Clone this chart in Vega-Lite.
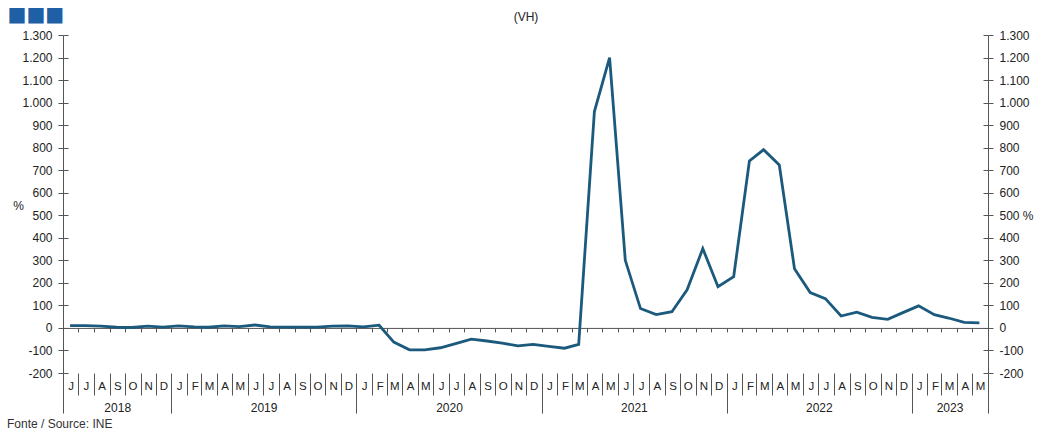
{
  "$schema": "https://vega.github.io/schema/vega-lite/v6.json",
  "width": 925,
  "height": 338,
  "autosize": {"type": "none"},
  "padding": {"left": 63, "top": 35, "right": 51, "bottom": 56},
  "background": "white",
  "title": {
    "text": "Fonte / Source: INE",
    "orient": "bottom",
    "anchor": "start",
    "frame": "bounds",
    "font": "Liberation Sans",
    "fontSize": 12,
    "fontWeight": "normal",
    "color": "#333333",
    "offset": 5
  },
  "config": {
    "font": "Liberation Sans",
    "view": {"stroke": null},
    "axis": {
      "grid": false,
      "domainColor": "#555555",
      "tickColor": "#555555",
      "labelColor": "#222222",
      "labelFont": "Liberation Sans",
      "titleFont": "Liberation Sans",
      "titleColor": "#222222"
    }
  },
  "datasets": {
    "series": [
      {"month": "2018-06-15", "value": 10},
      {"month": "2018-07-15", "value": 10},
      {"month": "2018-08-15", "value": 8},
      {"month": "2018-09-15", "value": 3},
      {"month": "2018-10-15", "value": 2},
      {"month": "2018-11-15", "value": 8},
      {"month": "2018-12-15", "value": 4},
      {"month": "2019-01-15", "value": 9},
      {"month": "2019-02-15", "value": 5},
      {"month": "2019-03-15", "value": 3},
      {"month": "2019-04-15", "value": 9},
      {"month": "2019-05-15", "value": 6},
      {"month": "2019-06-15", "value": 13},
      {"month": "2019-07-15", "value": 5},
      {"month": "2019-08-15", "value": 4},
      {"month": "2019-09-15", "value": 4},
      {"month": "2019-10-15", "value": 4},
      {"month": "2019-11-15", "value": 8},
      {"month": "2019-12-15", "value": 9},
      {"month": "2020-01-15", "value": 5},
      {"month": "2020-02-15", "value": 12},
      {"month": "2020-03-15", "value": -63},
      {"month": "2020-04-15", "value": -97},
      {"month": "2020-05-15", "value": -97},
      {"month": "2020-06-15", "value": -88},
      {"month": "2020-07-15", "value": -70},
      {"month": "2020-08-15", "value": -50},
      {"month": "2020-09-15", "value": -58},
      {"month": "2020-10-15", "value": -67},
      {"month": "2020-11-15", "value": -80},
      {"month": "2020-12-15", "value": -73},
      {"month": "2021-01-15", "value": -82},
      {"month": "2021-02-15", "value": -90},
      {"month": "2021-03-15", "value": -73},
      {"month": "2021-04-15", "value": 960},
      {"month": "2021-05-15", "value": 1200},
      {"month": "2021-06-15", "value": 300},
      {"month": "2021-07-15", "value": 86},
      {"month": "2021-08-15", "value": 59},
      {"month": "2021-09-15", "value": 72},
      {"month": "2021-10-15", "value": 169},
      {"month": "2021-11-15", "value": 352},
      {"month": "2021-12-15", "value": 183},
      {"month": "2022-01-15", "value": 228},
      {"month": "2022-02-15", "value": 741},
      {"month": "2022-03-15", "value": 791},
      {"month": "2022-04-15", "value": 723},
      {"month": "2022-05-15", "value": 263},
      {"month": "2022-06-15", "value": 157},
      {"month": "2022-07-15", "value": 130},
      {"month": "2022-08-15", "value": 53},
      {"month": "2022-09-15", "value": 70},
      {"month": "2022-10-15", "value": 47},
      {"month": "2022-11-15", "value": 38},
      {"month": "2022-12-15", "value": 68},
      {"month": "2023-01-15", "value": 98},
      {"month": "2023-02-15", "value": 59},
      {"month": "2023-03-15", "value": 44},
      {"month": "2023-04-15", "value": 25},
      {"month": "2023-05-15", "value": 22}
    ]
  },
  "layer": [
    {
      "data": {"name": "series"},
      "mark": {"type": "line", "color": "#1b5a7d", "strokeWidth": 2.8},
      "encoding": {
        "x": {
          "field": "month",
          "type": "temporal",
          "scale": {"domain": [{"year": 2018, "month": 6, "date": 1}, {"year": 2023, "month": 6, "date": 1}]},
          "axis": {
            "orient": "bottom",
            "title": null,
            "domain": false,
            "tickCount": {"interval": "month", "step": 1},
            "tickSize": {"condition": {"test": "month(datum.value)==0 || (month(datum.value)==5 && (year(datum.value)==2018 || year(datum.value)==2023))", "value": 40}, "value": 22},
            "labelExpr": "(month(datum.value)==5 && year(datum.value)==2023) ? '' : substring(timeFormat(datum.value, '%B'), 0, 1)",
            "labelOffset": 7.7,
            "labelPadding": {"condition": {"test": "month(datum.value)==0 || (month(datum.value)==5 && (year(datum.value)==2018 || year(datum.value)==2023))", "value": -33}, "value": -15},
            "labelBaseline": "top",
            "labelFontSize": 11.5,
            "labelFlush": false,
            "labelOverlap": false,
            "labelBound": false
          }
        },
        "y": {
          "field": "value",
          "type": "quantitative",
          "scale": {"domain": [-200, 1300], "nice": false, "zero": false},
          "axis": {
            "orient": "left",
            "values": [-200, -100, 0, 100, 200, 300, 400, 500, 600, 700, 800, 900, 1000, 1100, 1200, 1300],
            "labelExpr": "replace(replace(format(datum.value, ','), ',', '.'), '\u2212', '-')",
            "tickSize": 5,
            "labelPadding": 6,
            "labelFontSize": 12,
            "title": "%",
            "titleAngle": 0,
            "titleX": -45,
            "titleY": 170,
            "titleAlign": "center",
            "titleBaseline": "middle",
            "titleFontSize": 12,
            "titleFontWeight": "normal"
          }
        }
      }
    },
    {
      "data": {"values": []},
      "mark": {"type": "rule"},
      "encoding": {
        "x": {
          "field": "month",
          "type": "temporal",
          "axis": {
            "orient": "bottom",
            "title": null,
            "offset": -45.07,
            "labels": false,
            "domain": true,
            "tickSize": 4,
            "tickCount": {"interval": "month", "step": 1}
          }
        },
        "y": {
          "field": "value",
          "type": "quantitative",
          "axis": {
            "orient": "right",
            "values": [-200, -100, 0, 100, 200, 300, 400, 500, 600, 700, 800, 900, 1000, 1100, 1200, 1300],
            "labelExpr": "datum.value == 500 ? '500 %' : replace(replace(format(datum.value, ','), ',', '.'), '\u2212', '-')",
            "tickSize": 5,
            "labelPadding": 6,
            "labelFontSize": 12,
            "title": null
          }
        }
      }
    },
    {
      "data": {"values": []},
      "mark": {"type": "rule"},
      "encoding": {
        "x": {
          "field": "month",
          "type": "temporal",
          "axis": {
            "orient": "bottom",
            "title": null,
            "domain": false,
            "ticks": false,
            "values": [
              {"year": 2018, "month": 9, "date": 16},
              {"year": 2019, "month": 7, "date": 2},
              {"year": 2020, "month": 7, "date": 2},
              {"year": 2021, "month": 7, "date": 2},
              {"year": 2022, "month": 7, "date": 2},
              {"year": 2023, "month": 3, "date": 17}
            ],
            "labelExpr": "timeFormat(datum.value, '%Y')",
            "labelPadding": 29,
            "labelBaseline": "top",
            "labelFontSize": 12,
            "labelFlush": false,
            "labelOverlap": false,
            "labelBound": false
          }
        },
        "y": {
          "field": "value",
          "type": "quantitative",
          "axis": {
            "orient": "left",
            "values": [-200, -100, 0, 100, 200, 300, 400, 500, 600, 700, 800, 900, 1000, 1100, 1200, 1300],
            "labels": false,
            "domain": false,
            "tickSize": -5,
            "title": null
          }
        }
      }
    },
    {
      "data": {"values": []},
      "mark": {"type": "rule"},
      "encoding": {
        "x": {
          "field": "month",
          "type": "temporal",
          "axis": {
            "orient": "top",
            "domain": false,
            "ticks": false,
            "labels": false,
            "title": "(VH)",
            "titleFontSize": 12,
            "titleFontWeight": "normal",
            "titlePadding": 12
          }
        },
        "y": {
          "field": "value",
          "type": "quantitative",
          "axis": {
            "orient": "right",
            "values": [-200, -100, 0, 100, 200, 300, 400, 500, 600, 700, 800, 900, 1000, 1100, 1200, 1300],
            "labels": false,
            "domain": false,
            "tickSize": -5,
            "title": null
          }
        }
      }
    },
    {
      "data": {"values": []},
      "mark": {"type": "rule"},
      "encoding": {
        "x": {
          "field": "month",
          "type": "temporal",
          "axis": {
            "orient": "top",
            "domain": false,
            "ticks": false,
            "labels": false,
            "title": "■■■",
            "titleFont": "DejaVu Sans",
            "titleColor": "#1f5fa6",
            "titleFontSize": 20,
            "titleAnchor": "start",
            "titleAlign": "left",
            "titleBaseline": "middle",
            "titleX": -56,
            "titleY": -21
          }
        }
      }
    }
  ],
  "resolve": {"axis": {"x": "independent", "y": "independent"}}
}
